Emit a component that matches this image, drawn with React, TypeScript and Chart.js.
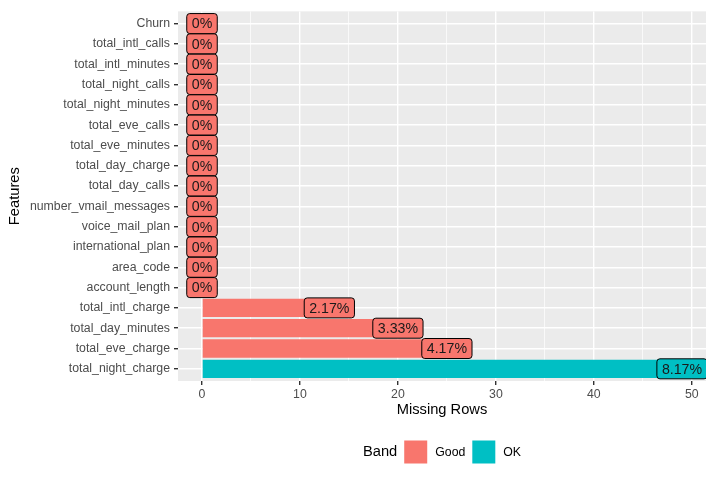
import React, { useEffect, useRef } from "react";
import { Chart, registerables } from "chart.js";

Chart.register(...registerables);

const features = [
  "Churn",
  "total_intl_calls",
  "total_intl_minutes",
  "total_night_calls",
  "total_night_minutes",
  "total_eve_calls",
  "total_eve_minutes",
  "total_day_charge",
  "total_day_calls",
  "number_vmail_messages",
  "voice_mail_plan",
  "international_plan",
  "area_code",
  "account_length",
  "total_intl_charge",
  "total_day_minutes",
  "total_eve_charge",
  "total_night_charge",
];
const missingRows = [0, 0, 0, 0, 0, 0, 0, 0, 0, 0, 0, 0, 0, 0, 13, 20, 25, 49];
const pctLabels = [
  "0%", "0%", "0%", "0%", "0%", "0%", "0%", "0%", "0%", "0%", "0%", "0%", "0%", "0%",
  "2.17%", "3.33%", "4.17%", "8.17%",
];
const bands = [
  "Good", "Good", "Good", "Good", "Good", "Good", "Good", "Good", "Good", "Good", "Good", "Good", "Good", "Good",
  "Good", "Good", "Good", "OK",
];
const bandNames = ["Good", "OK"];
const bandColors = ["#F8766D", "#00BFC4"];
const xGridValues = [0, 5, 10, 15, 20, 25, 30, 35, 40, 45, 50];

const FONT = "'Liberation Sans', Arial, Helvetica, sans-serif";
const TICK_SIZE = 12.3;

const colorOf = (b: string) => bandColors[bandNames.indexOf(b)];

export default function App() {
  const ref = useRef<HTMLCanvasElement | null>(null);

  useEffect(() => {
    if (!ref.current) return;
    const maxVal = Math.max(...missingRows);
    const xMin = -maxVal * 0.05;
    const xMax = maxVal * 1.05;
    const n = features.length;

    const panelBg = {
      id: "panelBg",
      beforeDraw(chart: any) {
        const { ctx, chartArea } = chart;
        ctx.save();
        ctx.fillStyle = "#EBEBEB";
        ctx.fillRect(chartArea.left, chartArea.top, chartArea.right - chartArea.left, chartArea.bottom - chartArea.top);
        ctx.restore();
      },
    };

    const barLabels = {
      id: "barLabels",
      afterDatasetsDraw(chart: any) {
        const { ctx, chartArea } = chart;
        const xs = chart.scales.x;
        const meta = chart.getDatasetMeta(0);
        ctx.save();
        ctx.beginPath();
        ctx.rect(chartArea.left, chartArea.top, chartArea.right - chartArea.left, chartArea.bottom - chartArea.top);
        ctx.clip();
        ctx.font = `14.2px ${FONT}`;
        ctx.textAlign = "center";
        ctx.textBaseline = "middle";
        meta.data.forEach((el: any, i: number) => {
          const x = xs.getPixelForValue(missingRows[i]);
          const y = el.y;
          const tw = ctx.measureText(pctLabels[i]).width;
          const w = tw + 10;
          const h = 20;
          ctx.beginPath();
          (ctx as any).roundRect(x - w / 2, y - h / 2, w, h, 3);
          ctx.fillStyle = colorOf(bands[i]);
          ctx.fill();
          ctx.lineWidth = 1;
          ctx.strokeStyle = "#000";
          ctx.stroke();
          ctx.fillStyle = "#1a1a1a";
          ctx.fillText(pctLabels[i], x, y + 1);
        });
        ctx.restore();
      },
    };

    const bandLegend = {
      id: "bandLegend",
      afterDraw(chart: any) {
        const { ctx, chartArea } = chart;
        ctx.save();
        ctx.textBaseline = "middle";
        ctx.textAlign = "left";
        const box = 23;
        const cy = 452;
        ctx.font = `14.7px ${FONT}`;
        const titleW = ctx.measureText("Band").width;
        ctx.font = `${TICK_SIZE}px ${FONT}`;
        const itemWs = bandNames.map((b) => ctx.measureText(b).width);
        const total = titleW + 7 + itemWs.reduce((a, w) => a + box + 8 + w, 0) + 7 * (bandNames.length - 1);
        let x = (chartArea.left + chartArea.right) / 2 - total / 2;
        ctx.font = `14.7px ${FONT}`;
        ctx.fillStyle = "#000";
        ctx.fillText("Band", x, cy);
        x += titleW + 7;
        bandNames.forEach((b, i) => {
          ctx.fillStyle = bandColors[i];
          ctx.fillRect(x, cy - box / 2, box, box);
          x += box + 8;
          ctx.font = `${TICK_SIZE}px ${FONT}`;
          ctx.fillStyle = "#000";
          ctx.fillText(b, x, cy + 1);
          x += itemWs[i] + 7;
        });
        ctx.restore();
      },
    };

    const chart = new Chart(ref.current, {
      type: "bar",
      data: {
        datasets: [
          {
            data: missingRows.map((v, i) => ({ x: v, y: i })),
            backgroundColor: bands.map(colorOf),
            borderWidth: 0,
            barPercentage: 0.9,
            categoryPercentage: 1,
          },
        ],
      },
      options: {
        indexAxis: "y",
        animation: false,
        responsive: false,
        layout: { padding: { left: 0, right: 8, top: 7, bottom: 47 } },
        plugins: { legend: { display: false }, tooltip: { enabled: false } },
        scales: {
          x: {
            type: "linear",
            position: "bottom",
            min: xMin,
            max: xMax,
            offset: false,
            afterBuildTicks: (s: any) => {
              s.ticks = xGridValues.map((v) => ({ value: v }));
            },
            afterFit: (s: any) => {
              s.height = 50;
            },
            grid: {
              offset: false,
              color: "#FFFFFF",
              lineWidth: (c: any) => (c.tick && c.tick.value % 10 === 0 ? 1.4 : 0.7),
              tickColor: (c: any) => (c.tick && c.tick.value % 10 === 0 ? "#333333" : "rgba(0,0,0,0)"),
              tickLength: 4,
              drawTicks: true,
            },
            border: { display: false },
            ticks: {
              color: "#4D4D4D",
              font: { family: FONT, size: TICK_SIZE },
              padding: 2,
              autoSkip: false,
              maxRotation: 0,
              callback: (v: any) => (Number(v) % 10 === 0 ? String(v) : ""),
            },
            title: {
              display: true,
              text: "Missing Rows",
              color: "#000",
              font: { family: FONT, size: 14.7 },
              padding: { top: 2, bottom: 12 },
            },
          },
          y: {
            type: "linear",
            reverse: true,
            min: -0.6,
            max: n - 1 + 0.6,
            offset: false,
            afterBuildTicks: (s: any) => {
              s.ticks = features.map((_, i) => ({ value: i }));
            },
            afterFit: (s: any) => {
              s.width = 178;
            },
            grid: {
              offset: false,
              color: "#FFFFFF",
              lineWidth: 1.4,
              tickColor: "#333333",
              tickLength: 4,
            },
            border: { display: false },
            ticks: {
              color: "#4D4D4D",
              font: { family: FONT, size: TICK_SIZE },
              padding: 4,
              autoSkip: false,
              callback: (v: any) => features[Number(v)] ?? "",
            },
            title: {
              display: true,
              text: "Features",
              color: "#000",
              font: { family: FONT, size: 14.7 },
              padding: { top: 6, bottom: 0 },
            },
          },
        },
      } as any,
      plugins: [panelBg, barLabels, bandLegend],
    });
    return () => chart.destroy();
  }, []);

  return (
    <div style={{ position: "fixed", left: 0, top: 0, width: 714, height: 478, background: "#fff" }}>
      <canvas ref={ref} width={714} height={478} style={{ display: "block" }} />
    </div>
  );
}
